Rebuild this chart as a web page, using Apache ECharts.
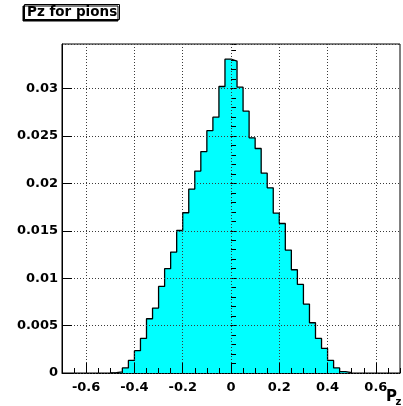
<!DOCTYPE html>
<html>
<head>
<meta charset="utf-8">
<script src="https://cdn.jsdelivr.net/npm/echarts@6/dist/echarts.min.js"></script>
<style>
html,body{margin:0;padding:0;background:#fff;}
#chart{width:403px;height:406px;}
</style>
</head>
<body>
<div id="chart"></div>
<script>
// ---- data ----
const titleText = 'Pz for pions';
const axisTitleMain = 'P';
const axisTitleSub = 'z';
const binEdges = [-0.5,-0.475,-0.45,-0.425,-0.4,-0.375,-0.35,-0.325,-0.3,-0.275,
  -0.25,-0.225,-0.2,-0.175,-0.15,-0.125,-0.1,-0.075,-0.05,-0.025,
  0,0.025,0.05,0.075,0.1,0.125,0.15,0.175,0.2,0.225,
  0.25,0.275,0.3,0.325,0.35,0.375,0.4,0.425,0.45,0.475,0.5];
const binValues = [0.00003,0.00012,0.00053,0.00133,0.00235,0.00365,0.00572,0.00685,0.00913,0.0110,
  0.01275,0.01503,0.0169,0.0194,0.0213,0.02335,0.02556,0.02698,0.03022,0.0331,
  0.0329,0.03015,0.02761,0.0248,0.02368,0.02108,0.01953,0.01686,0.01577,0.01296,
  0.01089,0.00934,0.00727,0.0053,0.00365,0.00259,0.00133,0.00053,0.00014,0.00003];
const xRange = [-0.7, 0.7];
const yRange = [0, 0.0347];
const xTickValues = [-0.6,-0.4,-0.2,0,0.2,0.4,0.6];
const xTickLabels = ['-0.6','-0.4','-0.2','0','0.2','0.4','0.6'];
const xMinorStep = 0.05;
const yTickValues = [0,0.005,0.01,0.015,0.02,0.025,0.03];
const yTickLabels = ['0','0.005','0.01','0.015','0.02','0.025','0.03'];
const yMajorStep = 0.005;
const yMinorStep = 0.001;

// ---- build ----
const FONT = "'DejaVu Sans'";
const lineData = [[binEdges[0], 0]];
for (let i = 0; i < binValues.length; i++) lineData.push([binEdges[i], binValues[i]]);
lineData.push([binEdges[binEdges.length - 1], binValues[binValues.length - 1]]);
lineData.push([binEdges[binEdges.length - 1], 0]);

// category positions (one per minor step) used for major ticks / grid / labels
const nCat = Math.round((xRange[1] - xRange[0]) / xMinorStep);
const xCats = [];
for (let k = 0; k <= nCat; k++) xCats.push((xRange[0] + k * xMinorStep).toFixed(3));
function majorIdx(v) {
  const p = +v;
  return xTickValues.findIndex(t => Math.abs(t - p) < 1e-9);
}
const isMajor = (idx, v) => majorIdx(xCats[idx]) >= 0;

const gridLine = { show: true, lineStyle: { color: '#3a3a3a', type: [1, 2], width: 1 } };
const labelStyle = { color: '#000', fontFamily: FONT, fontWeight: 'bold', fontSize: 13 };

const chart = echarts.init(document.getElementById('chart'), null, { renderer: 'canvas' });
chart.setOption({
  animation: false,
  backgroundColor: '#fff',
  title: {
    text: titleText,
    left: 24, top: 4,
    padding: [1, 3, 1, 3],
    backgroundColor: '#fff',
    borderColor: '#000',
    borderWidth: 1,
    shadowColor: '#000',
    shadowBlur: 0,
    shadowOffsetX: -1.5,
    shadowOffsetY: 1.5,
    textStyle: { color: '#000', fontFamily: FONT, fontWeight: 'bold', fontSize: 13.5, lineHeight: 14 }
  },
  grid: { left: 62, top: 44, width: 338, height: 329, show: true, borderColor: '#000', borderWidth: 1, backgroundColor: 'transparent' },
  xAxis: [
    { // minor ticks + data axis
      type: 'value', min: xRange[0], max: xRange[1], interval: xMinorStep,
      axisLine: { show: true, onZero: false, lineStyle: { color: '#000', width: 1 } },
      axisTick: { show: true, inside: true, length: 5, lineStyle: { color: '#000' } },
      axisLabel: { show: false },
      splitLine: { show: false },
      z: 4
    },
    { // major ticks, grid lines and labels
      type: 'category', data: xCats, boundaryGap: false, position: 'bottom',
      axisLine: { show: false },
      axisTick: { show: true, inside: true, length: 10, interval: isMajor, lineStyle: { color: '#000' } },
      axisLabel: {
        show: true, interval: isMajor, margin: 8,
        formatter: (v) => { const i = majorIdx(v); return i >= 0 ? xTickLabels[i] : ''; },
        ...labelStyle
      },
      splitLine: Object.assign({ interval: isMajor }, gridLine),
      z: 5
    }
  ],
  yAxis: [
    {
      type: 'value', min: yRange[0], max: yRange[1], interval: yMajorStep,
      axisLine: { show: true, onZero: false, lineStyle: { color: '#000', width: 1 } },
      axisTick: { show: true, inside: true, length: 10, lineStyle: { color: '#000' } },
      axisLabel: {
        show: true, margin: 4, showMaxLabel: false,
        formatter: (v) => { const i = yTickValues.findIndex(t => Math.abs(t - v) < 1e-9); return i >= 0 ? yTickLabels[i] : ''; },
        ...labelStyle
      },
      splitLine: gridLine,
      z: 5
    },
    {
      type: 'value', min: yRange[0], max: yRange[1], interval: yMinorStep, position: 'left',
      axisLine: { show: false },
      axisTick: { show: true, inside: true, length: 5, lineStyle: { color: '#000' } },
      axisLabel: { show: false },
      splitLine: { show: false },
      z: 4
    }
  ],
  series: [{
    type: 'line',
    xAxisIndex: 0, yAxisIndex: 0,
    data: lineData,
    step: 'end',
    symbol: 'none',
    lineStyle: { color: '#000', width: 1.3 },
    areaStyle: { color: '#00ffff', opacity: 1 },
    z: 2,
    silent: true
  }],
  graphic: [
    { type: 'text', left: 386, top: 389.5, z: 10,
      style: { text: axisTitleMain, fill: '#000', font: "bold 15px 'DejaVu Sans'" } },
    { type: 'text', left: 395.5, top: 397, z: 10,
      style: { text: axisTitleSub, fill: '#000', font: "bold 10px 'DejaVu Sans'" } }
  ]
});
</script>
</body>
</html>
